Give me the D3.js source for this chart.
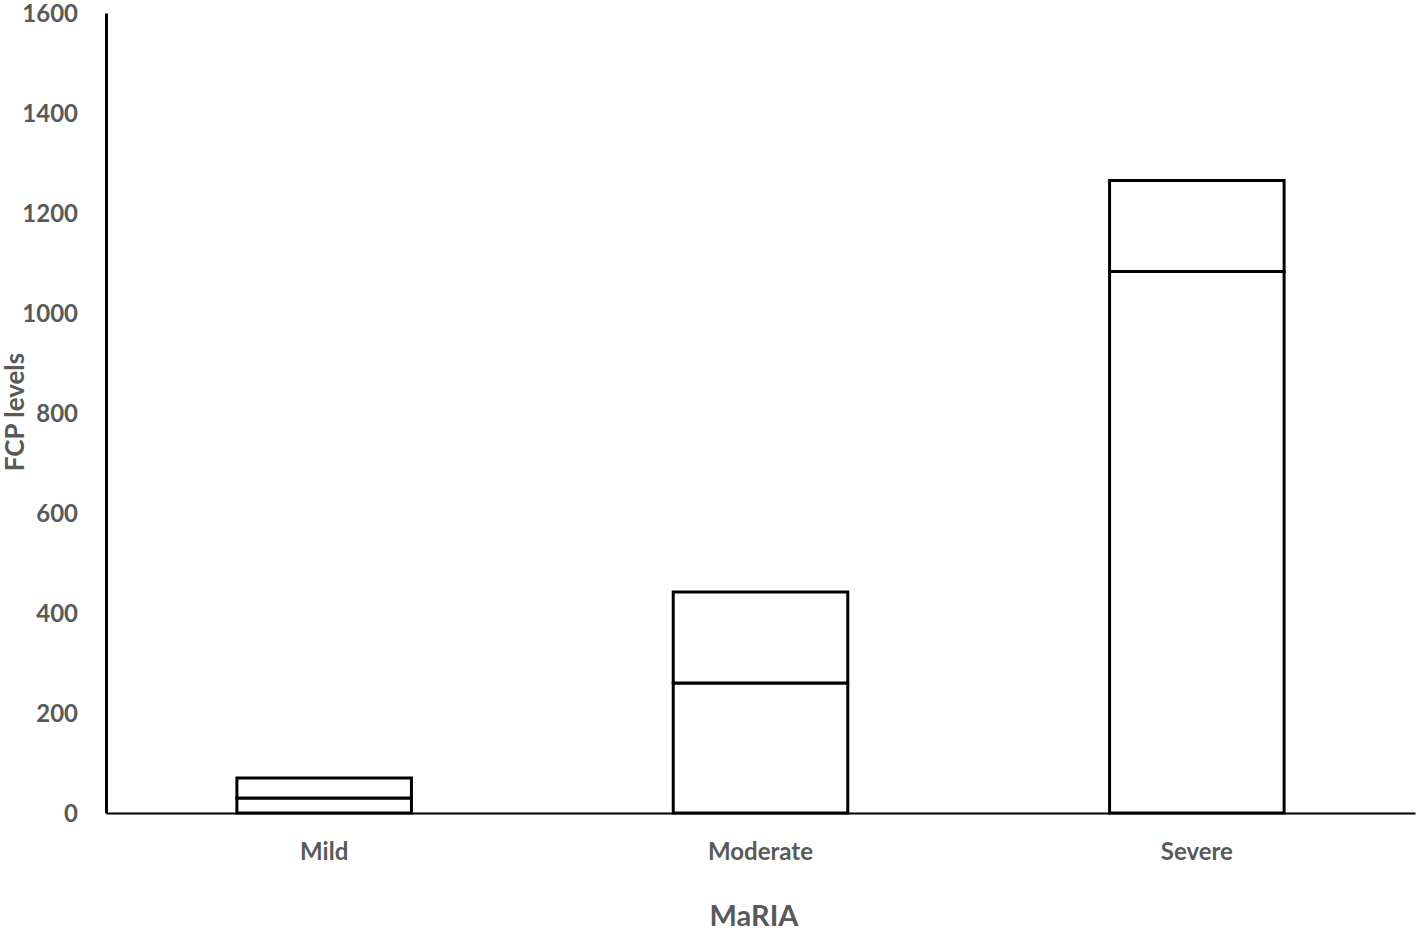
<!DOCTYPE html>
<html lang="en">
<head>
  <meta charset="UTF-8">
  <title>FCP levels by MaRIA</title>
  <style>
    body { margin: 0; background: #fff; }
    text { font-family: Lato, "Open Sans", sans-serif; font-weight: bold; fill: #595959; }
  </style>
  <script src="https://cdn.jsdelivr.net/npm/d3@7"></script>
</head>
<body>
  <script>
    // data
    var categories = ["Mild", "Moderate", "Severe"];
    var lowerValues = [30, 260, 1083];
    var upperValues = [40, 182, 182];
    var yTicks = [0, 200, 400, 600, 800, 1000, 1200, 1400, 1600];

    var W = 1418, H = 931;
    var m = { left: 106, top: 13, right: 3, bottom: 118 };
    var w = W - m.left - m.right;
    var h = H - m.top - m.bottom;

    var svg = d3.select("body").append("svg").attr("width", W).attr("height", H);
    var g = svg.append("g").attr("transform", "translate(" + m.left + "," + m.top + ")");

    var x = d3.scaleBand().domain(categories).range([0, w]).paddingInner(0.6).paddingOuter(0.3);
    var y = d3.scaleLinear().domain([0, 1600]).range([h, 0]);

    var data = categories.map(function(c, i) {
      return { cat: c, lower: lowerValues[i], upper: upperValues[i] };
    });
    var stack = d3.stack().keys(["lower", "upper"])(data);

    g.selectAll("g.layer")
      .data(stack)
      .enter().append("g")
      .attr("class", "layer")
      .selectAll("rect")
      .data(function(d) { return d; })
      .enter().append("rect")
      .attr("x", function(d) { return x(d.data.cat); })
      .attr("y", function(d) { return y(d[1]); })
      .attr("width", x.bandwidth())
      .attr("height", function(d) { return y(d[0]) - y(d[1]); })
      .attr("fill", "#fff")
      .attr("stroke", "#000")
      .attr("stroke-width", 3);

    // y axis
    var yAxis = g.append("g")
      .call(d3.axisLeft(y).tickValues(yTicks).tickFormat(d3.format("d")).tickSize(0).tickPadding(28));
    yAxis.select(".domain").attr("stroke", "#000").attr("stroke-width", 3);
    yAxis.selectAll("text").style("font-size", "24px").attr("fill", "#595959")
      .attr("font-family", null).attr("dy", "0.36em");

    // x axis
    var xAxis = g.append("g")
      .attr("transform", "translate(0," + h + ")")
      .call(d3.axisBottom(x).tickSize(0).tickPadding(30));
    xAxis.select(".domain").attr("stroke", "#000").attr("stroke-width", 2);
    xAxis.selectAll("text").style("font-size", "24px").attr("fill", "#595959")
      .attr("font-family", null);
    g.selectAll(".tick text").attr("font-family", null);

    svg.append("text")
      .attr("x", 754).attr("y", 926)
      .attr("text-anchor", "middle")
      .style("font-size", "29px")
      .text("MaRIA");

    svg.append("text")
      .attr("transform", "translate(24,412)rotate(-90)")
      .attr("text-anchor", "middle")
      .style("font-size", "26px")
      .text("FCP levels");
  </script>
</body>
</html>
